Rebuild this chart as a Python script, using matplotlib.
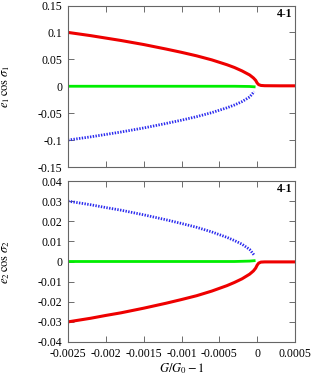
import matplotlib
matplotlib.use("Agg")
import matplotlib.pyplot as plt

plt.rcParams["font.family"] = ["Liberation Serif", "DejaVu Serif"]
plt.rcParams["mathtext.fontset"] = "stix"

# Данные (верхняя панель)
x_red = [-0.0025, -0.0022, -0.002, -0.0018, -0.0015, -0.0012, -0.001, -0.0008,
         -0.0006, -0.0004, -0.0003, -0.0002, -0.0001, -0.00005, -0.00002, 0.0,
         0.00002, 0.00005, 0.0001, 0.0003, 0.0005]
e1_red = [0.1, 0.094, 0.0895, 0.085, 0.0775, 0.069, 0.063, 0.0565,
          0.049, 0.04, 0.0348, 0.0285, 0.021, 0.0155, 0.011, 0.006,
          0.003, 0.0015, 0.001, 0.0008, 0.0008]

x_side = [-0.0025, -0.0022, -0.002, -0.0018, -0.0015, -0.0012, -0.001, -0.0008,
          -0.0006, -0.0004, -0.0003, -0.0002, -0.0001, -0.00004]
e1_blue = [-0.1, -0.094, -0.0895, -0.085, -0.0775, -0.069, -0.063, -0.0565,
           -0.049, -0.04, -0.0348, -0.0285, -0.02, -0.01]
e1_green = [0.0, 0.0, 0.0, 0.0, 0.0, 0.0, 0.0, 0.0,
            0.0, 0.0, 0.0, -0.0002, -0.0004, -0.001]

# Данные (нижняя панель)
e2_red = [-0.03, -0.0282, -0.0268, -0.0255, -0.0232, -0.0207, -0.0189, -0.017,
          -0.0147, -0.012, -0.0104, -0.0086, -0.0063, -0.0047, -0.0033, -0.0018,
          -0.0008, -0.0003, -0.0002, -0.0002, -0.0002]
e2_blue = [0.03, 0.0282, 0.0268, 0.0255, 0.0232, 0.0207, 0.0189, 0.017,
           0.0147, 0.012, 0.0104, 0.0086, 0.006, 0.0032]
e2_green = [0.0, 0.0, 0.0, 0.0, 0.0, 0.0, 0.0, 0.0,
            0.0, 0.0, 0.0, 0.0001, 0.0002, 0.0004]

xticks = [-0.0025, -0.002, -0.0015, -0.001, -0.0005, 0, 0.0005]
xticklabels = ["-0.0025", "-0.002", "-0.0015", "-0.001", "-0.0005", "0", "0.0005"]
yticks1 = [-0.15, -0.1, -0.05, 0, 0.05, 0.1, 0.15]
yticklabels1 = ["-0.15", "-0.1", "-0.05", "0", "0.05", "0.1", "0.15"]
yticks2 = [-0.04, -0.03, -0.02, -0.01, 0, 0.01, 0.02, 0.03, 0.04]
yticklabels2 = ["-0.04", "-0.03", "-0.02", "-0.01", "0", "0.01", "0.02", "0.03", "0.04"]

fig = plt.figure(figsize=(3.14, 3.78), dpi=100)
ax1 = fig.add_axes([68 / 314, 1 - 167 / 378, 227 / 314, 161.5 / 378])
ax2 = fig.add_axes([68 / 314, 1 - 342 / 378, 227 / 314, 161 / 378])

panels = [
    (ax1, e1_red, e1_blue, e1_green, yticks1, yticklabels1, (-0.15, 0.15),
     r"$e_1\,\cos\,\sigma_1$"),
    (ax2, e2_red, e2_blue, e2_green, yticks2, yticklabels2, (-0.04, 0.04),
     r"$e_2\,\cos\,\sigma_2$"),
]

for ax, red, blue, green, yt, ytl, ylim, ylab in panels:
    ax.plot(x_side, green, color="#00ee00", linewidth=2.0)
    ax.plot(x_side, blue, color="#2a2aee", linewidth=2.0, linestyle=(0, (0.5, 0.5)))
    ax.plot(x_red, red, color="#ee0000", linewidth=2.2)
    ax.set_xlim(-0.0025, 0.0005)
    ax.set_ylim(*ylim)
    ax.set_xticks(xticks)
    ax.set_yticks(yt)
    ax.set_yticklabels(ytl, fontsize=8.5)
    ax.tick_params(direction="in", top=True, right=True, length=4, width=0.6,
                   color="#555555", pad=4)
    for s in ax.spines.values():
        s.set_color("#666666")
        s.set_linewidth(0.8)
    ax.set_ylabel(ylab, fontsize=9)
    ax.yaxis.set_label_coords(-0.245, 0.5)
    ax.text(0.99, 0.985, "4-1", transform=ax.transAxes, ha="right", va="top",
            fontsize=8.5, fontweight="bold")

ax1.set_xticklabels([])
ax2.set_xticklabels(xticklabels, fontsize=8.5)
ax2.set_xlabel(r"$G/G_0-1$", fontsize=9, labelpad=1)

fig.savefig("out.png", dpi=100)
